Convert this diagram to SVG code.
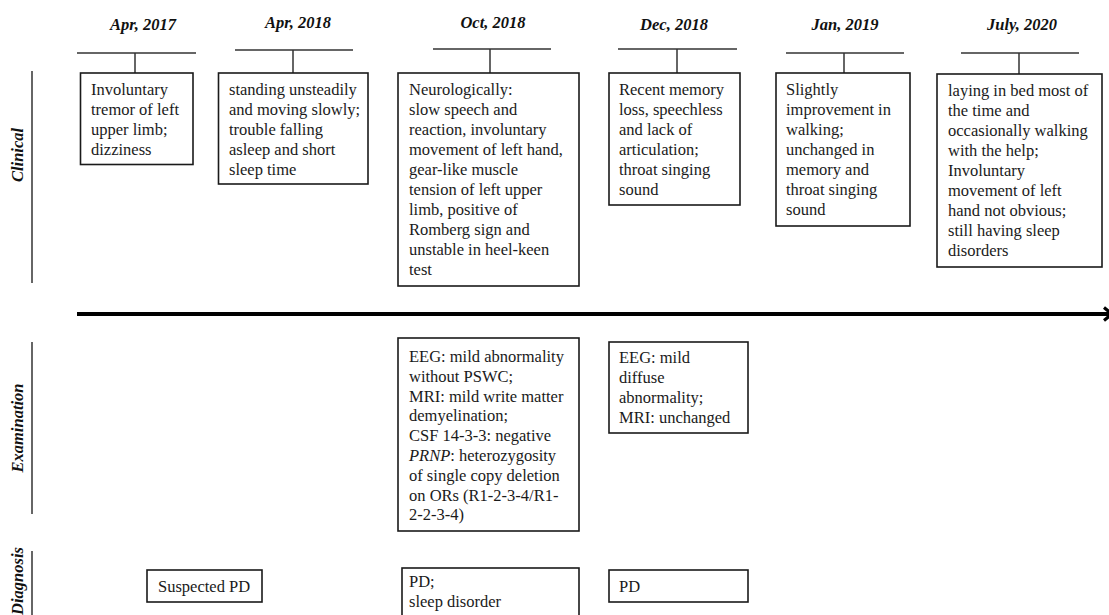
<svg xmlns="http://www.w3.org/2000/svg" width="1109" height="615" viewBox="0 0 1109 615">
<style>
.bg{fill:#fff}
.box{fill:#fff;stroke:#1a1a1a;stroke-width:1.6}
.hl{stroke:#333;stroke-width:1.5;fill:none}
.sl{stroke:#333;stroke-width:1.5;fill:none}
.t{font-family:"Liberation Serif","Times New Roman",serif;font-size:16.5px;fill:#1a1a1a}
.d{font-family:"Liberation Serif","Times New Roman",serif;font-size:16.5px;font-weight:bold;font-style:italic;fill:#111;text-anchor:middle}
.axis{stroke:#000;stroke-width:4;fill:none}
</style>
<defs>
<marker id="ah" viewBox="0 0 10 10" refX="6" refY="5" markerWidth="4" markerHeight="4" orient="auto" markerUnits="strokeWidth">
<path d="M1,1 L6,5 L1,9" fill="none" stroke="#000" stroke-width="2"/>
</marker>
</defs>
<rect class="bg" x="0" y="0" width="1109" height="615"/>

<g id="side-labels">
<line class="sl" x1="32" y1="71" x2="32" y2="283"/>
<text class="d" transform="translate(23,155) rotate(-90)">Clinical</text>
<line class="sl" x1="32" y1="342" x2="32" y2="514"/>
<text class="d" transform="translate(23,428) rotate(-90)">Examination</text>
<line class="sl" x1="32" y1="551" x2="32" y2="615"/>
<text class="d" transform="translate(23,581) rotate(-90)">Diagnosis</text>
</g>

<g id="connectors">
<line class="axis" x1="77" y1="314" x2="1112" y2="314" marker-end="url(#ah)"/>
<line class="hl" x1="77" y1="53" x2="196" y2="53"/><line class="hl" x1="135" y1="53" x2="135" y2="73"/>
<line class="hl" x1="235" y1="50" x2="353" y2="50"/><line class="hl" x1="293" y1="50" x2="293" y2="73"/>
<line class="hl" x1="433" y1="49" x2="551" y2="49"/><line class="hl" x1="490" y1="49" x2="490" y2="73"/>
<line class="hl" x1="618" y1="49" x2="737" y2="49"/><line class="hl" x1="677" y1="49" x2="677" y2="73"/>
<line class="hl" x1="786" y1="53" x2="904" y2="53"/><line class="hl" x1="844" y1="53" x2="844" y2="73"/>
<line class="hl" x1="961" y1="53" x2="1079" y2="53"/><line class="hl" x1="1019" y1="53" x2="1019" y2="74"/>
</g>

<g id="dates">
<text class="d" x="143" y="30">Apr, 2017</text>
<text class="d" x="298" y="28">Apr, 2018</text>
<text class="d" x="493" y="28">Oct, 2018</text>
<text class="d" x="674" y="30">Dec, 2018</text>
<text class="d" x="845" y="30">Jan, 2019</text>
<text class="d" x="1022" y="30">July, 2020</text>
</g>

<g id="clin-apr2017">
<rect class="box" x="80.5" y="73" width="112.5" height="91.5"/>
<text class="t" x="91" y="95">Involuntary</text>
<text class="t" x="91" y="115">tremor of left</text>
<text class="t" x="91" y="135">upper limb;</text>
<text class="t" x="91" y="155">dizziness</text>
</g>

<g id="clin-apr2018">
<rect class="box" x="218.5" y="73" width="149.5" height="111"/>
<text class="t" x="229" y="95">standing unsteadily</text>
<text class="t" x="229" y="115">and moving slowly;</text>
<text class="t" x="229" y="135">trouble falling</text>
<text class="t" x="229" y="155">asleep and short</text>
<text class="t" x="229" y="175">sleep time</text>
</g>

<g id="clin-oct2018">
<rect class="box" x="398" y="73" width="181" height="213"/>
<text class="t" x="409" y="95">Neurologically:</text>
<text class="t" x="409" y="115">slow speech and</text>
<text class="t" x="409" y="135">reaction, involuntary</text>
<text class="t" x="409" y="155">movement of left hand,</text>
<text class="t" x="409" y="175">gear-like muscle</text>
<text class="t" x="409" y="195">tension of left upper</text>
<text class="t" x="409" y="215">limb, positive of</text>
<text class="t" x="409" y="235">Romberg sign and</text>
<text class="t" x="409" y="255">unstable in heel-keen</text>
<text class="t" x="409" y="275">test</text>
</g>

<g id="clin-dec2018">
<rect class="box" x="609" y="73" width="131" height="132"/>
<text class="t" x="619" y="95">Recent memory</text>
<text class="t" x="619" y="115">loss, speechless</text>
<text class="t" x="619" y="135">and lack of</text>
<text class="t" x="619" y="155">articulation;</text>
<text class="t" x="619" y="175">throat singing</text>
<text class="t" x="619" y="195">sound</text>
</g>

<g id="clin-jan2019">
<rect class="box" x="776" y="73" width="134" height="153"/>
<text class="t" x="786" y="95">Slightly</text>
<text class="t" x="786" y="115">improvement in</text>
<text class="t" x="786" y="135">walking;</text>
<text class="t" x="786" y="155">unchanged in</text>
<text class="t" x="786" y="175">memory and</text>
<text class="t" x="786" y="195">throat singing</text>
<text class="t" x="786" y="215">sound</text>
</g>

<g id="clin-jul2020">
<rect class="box" x="937" y="74" width="165" height="193"/>
<text class="t" x="948" y="96">laying in bed most of</text>
<text class="t" x="948" y="116">the time and</text>
<text class="t" x="948" y="136">occasionally walking</text>
<text class="t" x="948" y="156">with the help;</text>
<text class="t" x="948" y="176">Involuntary</text>
<text class="t" x="948" y="196">movement of left</text>
<text class="t" x="948" y="216">hand not obvious;</text>
<text class="t" x="948" y="236">still having sleep</text>
<text class="t" x="948" y="256">disorders</text>
</g>

<g id="exam-oct2018">
<rect class="box" x="398" y="338" width="181" height="193"/>
<text class="t" x="409" y="362">EEG: mild abnormality</text>
<text class="t" x="409" y="382">without PSWC;</text>
<text class="t" x="409" y="402">MRI: mild write matter</text>
<text class="t" x="409" y="421">demyelination;</text>
<text class="t" x="409" y="441">CSF 14-3-3: negative</text>
<text class="t" x="409" y="461"><tspan font-style="italic">PRNP</tspan>: heterozygosity</text>
<text class="t" x="409" y="481">of single copy deletion</text>
<text class="t" x="409" y="501">on ORs (R1-2-3-4/R1-</text>
<text class="t" x="409" y="520">2-2-3-4)</text>
</g>

<g id="exam-dec2018">
<rect class="box" x="609" y="342" width="139" height="91"/>
<text class="t" x="619" y="363">EEG: mild</text>
<text class="t" x="619" y="383">diffuse</text>
<text class="t" x="619" y="403">abnormality;</text>
<text class="t" x="619" y="423">MRI: unchanged</text>
</g>

<g id="diag-apr2018">
<rect class="box" x="147" y="570" width="115" height="32"/>
<text class="t" x="158" y="592">Suspected PD</text>
</g>

<g id="diag-oct2018">
<rect class="box" x="402" y="568" width="177" height="60"/>
<text class="t" x="409" y="587">PD;</text>
<text class="t" x="409" y="607">sleep disorder</text>
</g>

<g id="diag-dec2018">
<rect class="box" x="609" y="570" width="139" height="32"/>
<text class="t" x="619" y="592">PD</text>
</g>
</svg>
